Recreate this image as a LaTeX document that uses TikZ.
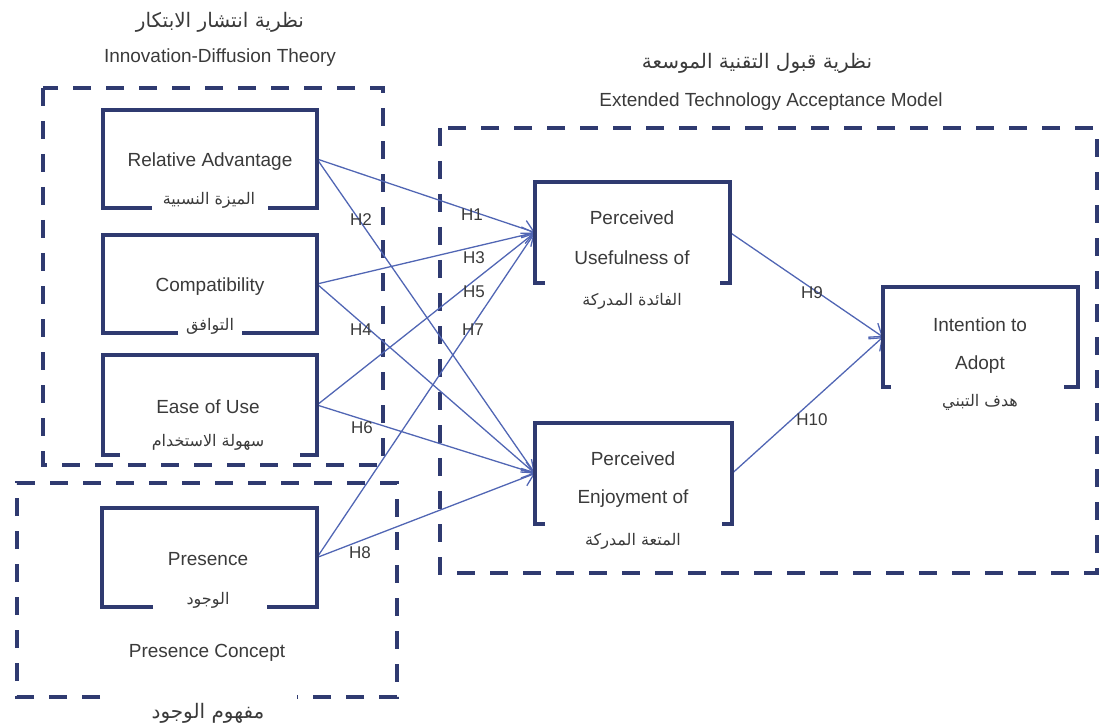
\documentclass[tikz,border=0pt]{standalone}
\usepackage{fontspec}
\setmainfont{Liberation Sans}
\newfontfamily\arabicfont[Script=Arabic]{DejaVu Sans}
\TeXXeTstate=1
\usetikzlibrary{arrows.meta}
\definecolor{navy}{HTML}{2F3A70}
\definecolor{linkc}{HTML}{5166B4}
\definecolor{txt}{HTML}{3A3A3A}
\newcommand{\artxt}[1]{{\arabicfont\beginR #1\endR}}
\tikzset{
  frame/.style={draw=navy, line width=3.8pt, dash pattern=on 18pt off 15pt},
  boxline/.style={draw=navy, line width=3.5pt},
  core/.style={inner sep=0pt, outer sep=0pt, minimum width=#1},
  lbl/.style={text=txt, font=\fontsize{19}{22}\selectfont, inner sep=0pt},
  artitle/.style={text=txt, font=\arabicfont\fontsize{20}{24}\selectfont, inner sep=0pt},
  arlbl/.style={text=txt, font=\arabicfont\fontsize{16}{19}\selectfont, inner sep=0pt},
  hyp/.style={text=txt, font=\fontsize{17}{20}\selectfont, inner sep=0pt},
  conn/.style={draw=linkc, line width=1.3pt, -{Straight Barb[length=11pt,width=17pt,line width=1.3pt]}}
}
\begin{document}
\begin{tikzpicture}[x=1pt,y=-1pt]
\useasboundingbox (0,0) rectangle (1105,727);
% dashed frames
\draw[frame] (43,88) rectangle (383,465);
\draw[frame] (440,128) rectangle (1097,573);
\draw[frame] (100,697) -- (17,697) -- (17,483) -- (397,483) -- (397,697) -- (297,697);
% titles
\node[artitle] (t1a) at (220,22) {\artxt{نظرية انتشار الابتكار}};
\node[lbl] (t1e) at (220,58) {Innovation-Diffusion Theory};
\node[artitle] (t2a) at (757,63) {\artxt{نظرية قبول التقنية الموسعة}};
\node[lbl] (t2e) at (771,102) {Extended Technology Acceptance Model};
% box cores
\node[core=214pt, minimum height=98pt] (ra) at (210,159) {};
\node[core=214pt, minimum height=98pt] (co) at (210,284) {};
\node[core=214pt, minimum height=100pt] (eu) at (210,405) {};
\node[core=215pt, minimum height=99pt] (pr) at (209.5,557.5) {};
\node[core=195pt, minimum height=101pt] (pu) at (632.5,232.5) {};
\node[core=197pt, minimum height=101pt] (pe) at (633.5,473.5) {};
\node[core=195pt, minimum height=100pt] (ia) at (980.5,337) {};
% connectors
\draw[conn] (ra.east) -- (pu.west);
\draw[conn] (ra.east) -- (pe.west);
\draw[conn] (co.east) -- (pu.west);
\draw[conn] (co.east) -- (pe.west);
\draw[conn] (eu.east) -- (pu.west);
\draw[conn] (eu.east) -- (pe.west);
\draw[conn] (pr.east) -- (pu.west);
\draw[conn] (pr.east) -- (pe.west);
\draw[conn] (pu.east) -- (ia.west);
\draw[conn] (pe.east) -- (ia.west);
% bracket boxes
\draw[boxline] ([xshift=49pt]ra.south west) -- (ra.south west) -- (ra.north west) -- (ra.north east) -- (ra.south east) -- ([xshift=-49pt]ra.south east);
\draw[boxline] ([xshift=75pt]co.south west) -- (co.south west) -- (co.north west) -- (co.north east) -- (co.south east) -- ([xshift=-75pt]co.south east);
\draw[boxline] ([xshift=17pt]eu.south west) -- (eu.south west) -- (eu.north west) -- (eu.north east) -- (eu.south east) -- ([xshift=-17pt]eu.south east);
\draw[boxline] ([xshift=51pt]pr.south west) -- (pr.south west) -- (pr.north west) -- (pr.north east) -- (pr.south east) -- ([xshift=-50pt]pr.south east);
\draw[boxline] ([xshift=10pt]pu.south west) -- (pu.south west) -- (pu.north west) -- (pu.north east) -- (pu.south east) -- ([xshift=-10pt]pu.south east);
\draw[boxline] ([xshift=10pt]pe.south west) -- (pe.south west) -- (pe.north west) -- (pe.north east) -- (pe.south east) -- ([xshift=-10pt]pe.south east);
\draw[boxline] ([xshift=8pt]ia.south west) -- (ia.south west) -- (ia.north west) -- (ia.north east) -- (ia.south east) -- ([xshift=-14pt]ia.south east);
% box texts
\node[lbl] (rat) at (210,162) {Relative Advantage};
\node[arlbl] (raa) at (209,200) {\artxt{الميزة النسبية}};
\node[lbl] (cot) at (210,287) {Compatibility};
\node[arlbl] (coa) at (210,326) {\artxt{التوافق}};
\node[lbl] (eut) at (208,407) {Ease of Use};
\node[arlbl] (eua) at (208,442) {\artxt{سهولة الاستخدام}};
\node[lbl] (prt) at (208,559) {Presence};
\node[arlbl] (pra) at (208,600) {\artxt{الوجود}};
\node[lbl] (pct) at (207,653) {Presence Concept};
\node[artitle] (pca) at (208,713) {\artxt{مفهوم الوجود}};
\node[lbl] (pu1) at (632,218) {Perceived};
\node[lbl] (pu2) at (632,258) {Usefulness of};
\node[arlbl] (pua) at (632,301) {\artxt{الفائدة المدركة}};
\node[lbl] (pe1) at (633,459) {Perceived};
\node[lbl] (pe2) at (633,499) {Enjoyment of};
\node[arlbl] (pea) at (633,541) {\artxt{المتعة المدركة}};
\node[lbl] (ia1) at (980,325) {Intention to};
\node[lbl] (ia2) at (980,365) {Adopt};
\node[arlbl] (iaa) at (980,402) {\artxt{هدف التبني}};
% hypothesis labels
\node[hyp] (h1) at (472,215) {H1};
\node[hyp] (h2) at (361,220) {H2};
\node[hyp] (h3) at (474,258) {H3};
\node[hyp] (h4) at (361,330) {H4};
\node[hyp] (h5) at (474,292) {H5};
\node[hyp] (h6) at (362,428) {H6};
\node[hyp] (h7) at (473,330) {H7};
\node[hyp] (h8) at (360,553) {H8};
\node[hyp] (h9) at (812,293) {H9};
\node[hyp] (h10) at (812,420) {H10};
\end{tikzpicture}
\end{document}
